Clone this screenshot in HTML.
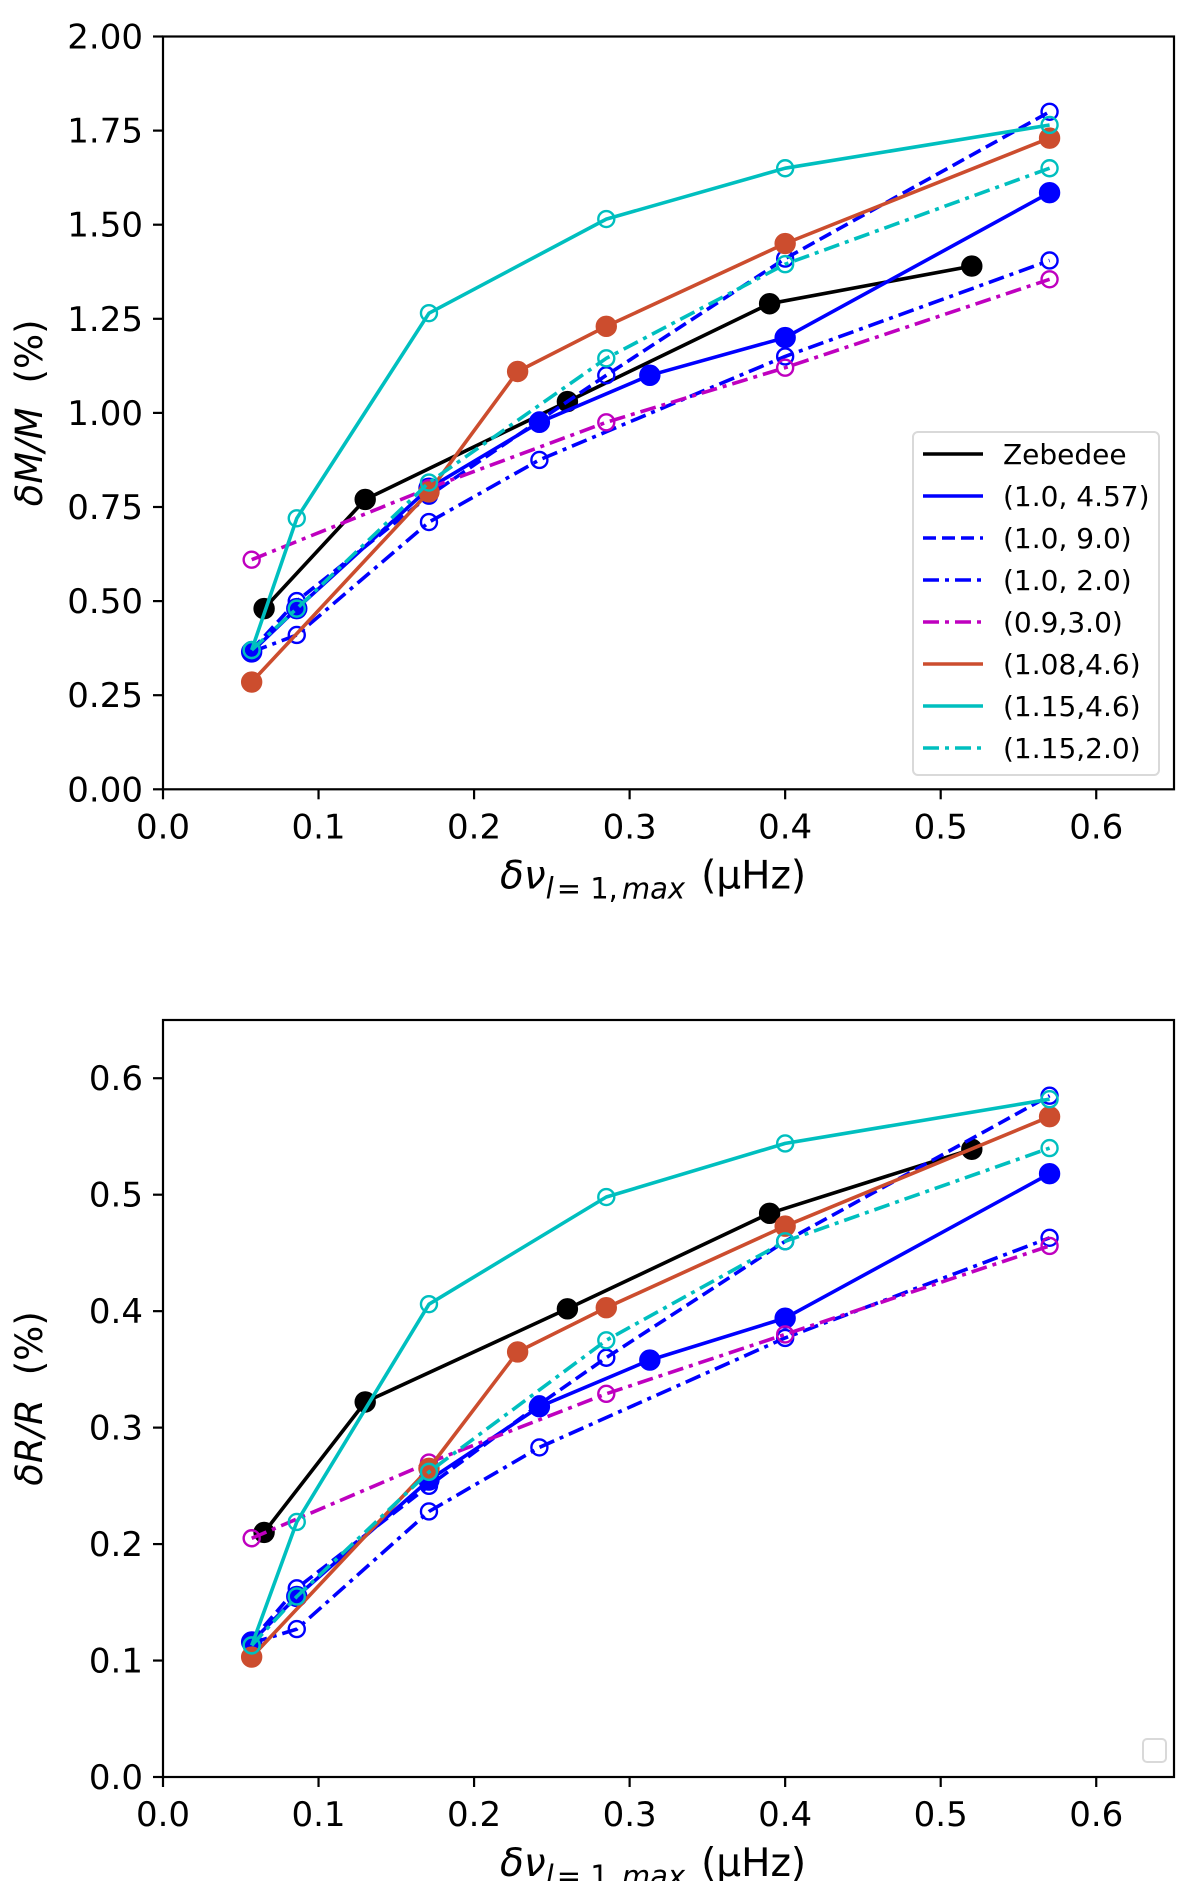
<!DOCTYPE html>
<html><head><meta charset="utf-8">
<style>
html,body{margin:0;padding:0;background:#fff;}
svg{display:block;font-family:"DejaVu Sans","Liberation Sans",sans-serif;}
</style></head>
<body>
<svg id="fig" width="1200" height="1881" viewBox="0 0 1200 1881" xmlns="http://www.w3.org/2000/svg"></svg>
<script>
// ---- data ----
const seriesNames = ["Zebedee","(1.0, 4.57)","(1.0, 9.0)","(1.0, 2.0)","(0.9,3.0)","(1.08,4.6)","(1.15,4.6)","(1.15,2.0)"];
const seriesSlugs = ["zebedee","s-1-0-4-57","s-1-0-9-0","s-1-0-2-0","s-0-9-3-0","s-1-08-4-6","s-1-15-4-6","s-1-15-2-0"];
const zebX = [0.065,0.13,0.26,0.39,0.52];
const b457X = [0.057,0.086,0.171,0.242,0.313,0.4,0.57];
const b9X = [0.057,0.086,0.171,0.242,0.285,0.4,0.57];
const b2X = [0.057,0.086,0.171,0.242,0.4,0.57];
const m3X = [0.057,0.171,0.285,0.4,0.57];
const o46X = [0.057,0.171,0.228,0.285,0.4,0.57];
const c46X = [0.057,0.086,0.171,0.285,0.4,0.57];
const c2X = [0.057,0.086,0.171,0.285,0.4,0.57];
// top panel dM/M (%)
const massZeb = [0.48,0.77,1.03,1.29,1.39];
const massB457 = [0.365,0.48,0.80,0.975,1.10,1.20,1.585];
const massB9 = [0.37,0.50,0.78,0.98,1.10,1.41,1.80];
const massB2 = [0.365,0.41,0.71,0.875,1.15,1.405];
const massM3 = [0.61,0.80,0.975,1.12,1.355];
const massO46 = [0.285,0.79,1.11,1.23,1.45,1.73];
const massC46 = [0.37,0.72,1.265,1.515,1.65,1.765];
const massC2 = [0.37,0.48,0.815,1.145,1.395,1.65];
// bottom panel dR/R (%)
const radZeb = [0.21,0.322,0.402,0.484,0.539];
const radB457 = [0.116,0.155,0.255,0.318,0.358,0.394,0.518];
const radB9 = [0.117,0.162,0.25,0.32,0.36,0.46,0.585];
const radB2 = [0.115,0.127,0.228,0.283,0.377,0.463];
const radM3 = [0.205,0.27,0.329,0.38,0.456];
const radO46 = [0.103,0.265,0.365,0.403,0.473,0.567];
const radC46 = [0.113,0.219,0.406,0.498,0.544,0.582];
const radC2 = [0.113,0.155,0.262,0.375,0.46,0.54];
const xTicks = ["0.0","0.1","0.2","0.3","0.4","0.5","0.6"];
const massTicks = ["0.00","0.25","0.50","0.75","1.00","1.25","1.50","1.75","2.00"];
const radTicks = ["0.0","0.1","0.2","0.3","0.4","0.5","0.6"];

const NS="http://www.w3.org/2000/svg";
const svg=document.getElementById('fig');
function mk(tag,attrs,parent){const e=document.createElementNS(NS,tag);for(const k in attrs)e.setAttribute(k,attrs[k]);(parent||svg).appendChild(e);return e;}

const styles=[
 {c:"#000000",dash:"",fill:true},
 {c:"#0000ff",dash:"",fill:true},
 {c:"#0000ff",dash:"13,6",fill:false},
 {c:"#0000ff",dash:"16,6,4,6",fill:false},
 {c:"#bf00bf",dash:"16,6,4,6",fill:false},
 {c:"#cc4d2e",dash:"",fill:true},
 {c:"#00bfbf",dash:"",fill:false},
 {c:"#00bfbf",dash:"16,6,4,6",fill:false}
];
const xsArr=[zebX,b457X,b9X,b2X,m3X,o46X,c46X,c2X];

function panel(name,top,bottom,ymax,yTickLabels,ys,ylabel,fullLegend){
  const L=163,R=1174,xmax=0.65;
  const g=mk('g',{});
  
  
  const sx=v=>L+(v/xmax)*(R-L);
  const sy=v=>bottom-(v/ymax)*(bottom-top);
  ys.forEach((arr,i)=>{
    const st=styles[i];const xs=xsArr[i];
    const sg=mk('g',{},g);
    
    
    const pts=arr.map((v,j)=>sx(xs[j]).toFixed(1)+','+sy(v).toFixed(1)).join(' ');
    const pl=mk('polyline',{points:pts,fill:'none',stroke:st.c,'stroke-width':3.6,'stroke-dasharray':st.dash,'stroke-linejoin':'round'},sg);
    
    
    arr.forEach((v,j)=>{
      const c=mk('circle',{cx:sx(xs[j]),cy:sy(v),r:st.fill?9.5:8,fill:st.fill?st.c:'none',stroke:st.c,'stroke-width':2.4},sg);
      
      
    });
  });
  const fr=mk('rect',{x:L,y:top,width:R-L,height:bottom-top,fill:'none',stroke:'#000','stroke-width':2.2},g);
  
  
  xTicks.forEach((t,i)=>{
    const x=sx(parseFloat(t));
    mk('line',{x1:x,y1:bottom,x2:x,y2:bottom+10,stroke:'#000','stroke-width':2.2},g);
    const tx=mk('text',{x:x,y:bottom+49,'font-size':34,'text-anchor':'middle',fill:'#000'},g);
    tx.textContent=t;
    
    
  });
  yTickLabels.forEach(t=>{
    const y=sy(parseFloat(t));
    mk('line',{x1:L-10,y1:y,x2:L,y2:y,stroke:'#000','stroke-width':2.2},g);
    const tx=mk('text',{x:L-20,y:y+12,'font-size':34,'text-anchor':'end',fill:'#000'},g);
    tx.textContent=t;
    
    
  });
  const xl=mk('text',{x:500,y:bottom+99,'font-size':39,fill:'#000'},g);
  
  
  xl.innerHTML='<tspan font-style="italic">δν</tspan><tspan font-size="29" dy="10" font-style="italic">l</tspan><tspan font-size="29" dx="3">= 1,</tspan><tspan font-size="29" dx="4" font-style="italic">max</tspan><tspan dy="-10" dx="16">(μHz)</tspan>';
  const cy=(top+bottom)/2;
  const yl=mk('text',{x:0,y:0,'font-size':37,'text-anchor':'middle',fill:'#000',transform:`translate(42,${cy}) rotate(-90)`},g);
  
  
  yl.innerHTML='<tspan font-style="italic">'+ylabel+'</tspan><tspan dx="24">(%)</tspan>';
  if(fullLegend){
    const lg=mk('g',{},g);
    
    
    mk('rect',{x:913,y:432,width:246,height:343,rx:5,fill:'#fff','fill-opacity':0.85,stroke:'#d9d9d9','stroke-width':2},lg);
    seriesNames.forEach((n,i)=>{
      const y=454+i*42;
      const st=styles[i];
      const e=mk('g',{},lg);
      
      
      mk('line',{x1:923,y1:y,x2:983,y2:y,stroke:st.c,'stroke-width':3.6,'stroke-dasharray':st.dash},e);
      const t=mk('text',{x:1003,y:y+10,'font-size':28,fill:'#000'},e);
      t.textContent=n;
    });
  } else {
    const lg=mk('rect',{x:1143,y:1739,width:23,height:23,rx:4,fill:'#fff',stroke:'#d9d9d9','stroke-width':2},g);
    
    
  }
}
panel('mass-panel',36.5,789.3,2.0,massTicks,[massZeb,massB457,massB9,massB2,massM3,massO46,massC46,massC2],'δM/M',true);
panel('radius-panel',1020,1777,0.65,radTicks,[radZeb,radB457,radB9,radB2,radM3,radO46,radC46,radC2],'δR/R',false);
</script>
</body></html>
